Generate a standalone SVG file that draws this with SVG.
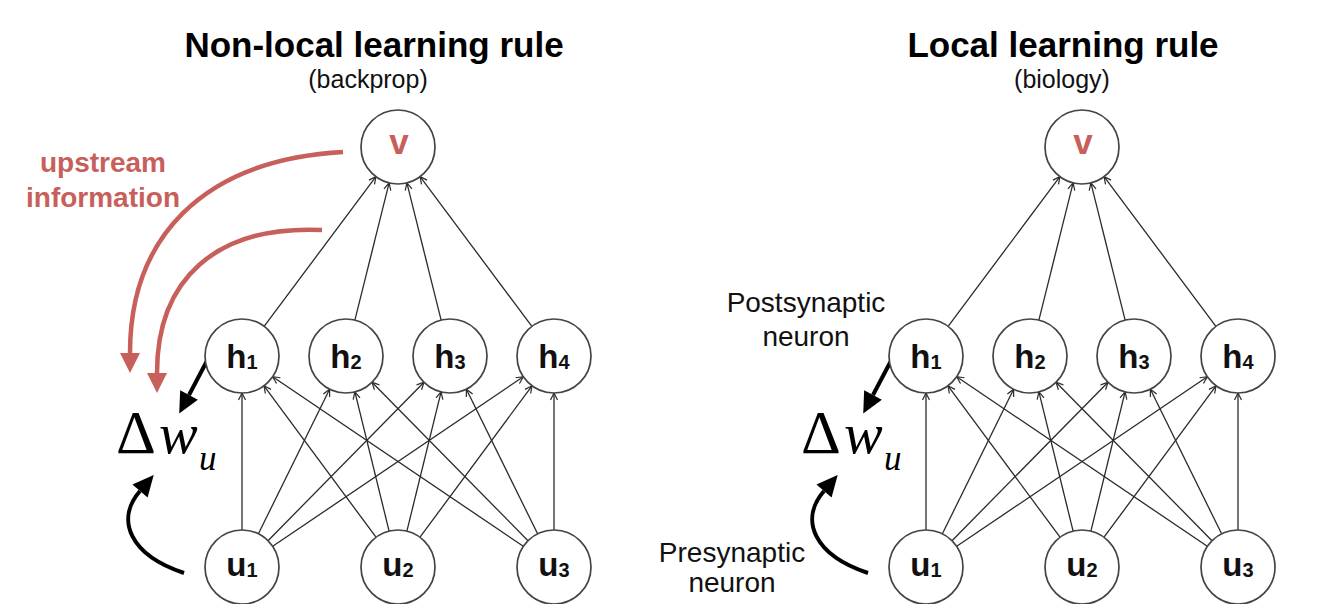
<svg xmlns="http://www.w3.org/2000/svg" width="1330" height="604" viewBox="0 0 1330 604">
<style>
.bg{fill:#ffffff}
.node circle{fill:#ffffff;stroke:#444;stroke-width:1.7}
.lbl{font-family:"Liberation Sans",Arial,sans-serif;font-weight:bold;font-size:33px;fill:#111;text-anchor:middle}
.sub{font-size:20px}
.vl{font-family:"Liberation Sans",Arial,sans-serif;font-weight:bold;font-size:35px;fill:#c7605a;text-anchor:middle}
.edge{stroke:#2a2a2a;stroke-width:1.3;fill:none;marker-end:url(#tiny)}
.title{font-family:"Liberation Sans",Arial,sans-serif;font-weight:bold;font-size:35px;fill:#000;text-anchor:middle}
.subt{font-family:"Liberation Sans",Arial,sans-serif;font-size:25px;fill:#111;text-anchor:middle}
.note{font-family:"Liberation Sans",Arial,sans-serif;font-size:28px;fill:#111;text-anchor:middle}
.red{font-family:"Liberation Sans",Arial,sans-serif;font-weight:bold;font-size:28px;fill:#c7605a;text-anchor:middle}
.math{font-family:"Liberation Serif","Times New Roman",serif;fill:#000}
.redarrow{stroke:#c7605a;stroke-width:4.5;fill:none;marker-end:url(#redhead)}
.blkarrow{stroke:#000;stroke-width:4;fill:none;marker-end:url(#blkhead)}
</style>
<defs>
<marker id="tiny" markerUnits="userSpaceOnUse" markerWidth="12" markerHeight="12" viewBox="-10 -6 12 12" refX="0" refY="0" orient="auto">
<path d="M-7,-3.5 L0,0 L-7,3.5" fill="none" stroke="#2a2a2a" stroke-width="1.2"/>
</marker>
<marker id="redhead" markerUnits="userSpaceOnUse" markerWidth="24" markerHeight="24" viewBox="-2 -12 24 24" refX="0" refY="0" orient="auto">
<path d="M0,-10 L20,0 L0,10 z" fill="#c7605a"/>
</marker>
<marker id="blkhead" markerUnits="userSpaceOnUse" markerWidth="24" markerHeight="24" viewBox="-2 -12 24 24" refX="0" refY="0" orient="auto">
<path d="M0,-10 L21,0 L0,10 z" fill="#000"/>
</marker>
</defs>
<rect class="bg" x="0" y="0" width="1330" height="604"/>

<g id="titles">
<text class="title" x="374" y="57">Non-local learning rule</text>
<text class="subt" x="368" y="88">(backprop)</text>
<text class="title" x="1063" y="57">Local learning rule</text>
<text class="subt" x="1062" y="88">(biology)</text>
</g>

<g id="connectors">
<line class="edge" x1="264.1" y1="326.4" x2="375.9" y2="176.6"/>
<line class="edge" x1="354.9" y1="320.1" x2="389.1" y2="182.9"/>
<line class="edge" x1="441.1" y1="320.1" x2="406.9" y2="182.9"/>
<line class="edge" x1="531.9" y1="326.4" x2="420.1" y2="176.6"/>
<line class="edge" x1="242" y1="530" x2="242" y2="393"/>
<line class="edge" x1="258.4" y1="533.8" x2="329.6" y2="389.2"/>
<line class="edge" x1="268.0" y1="540.7" x2="424.0" y2="382.3"/>
<line class="edge" x1="272.7" y1="546.3" x2="523.3" y2="376.7"/>
<line class="edge" x1="376.0" y1="537.2" x2="264.0" y2="385.8"/>
<line class="edge" x1="389.1" y1="531.1" x2="354.9" y2="391.9"/>
<line class="edge" x1="406.9" y1="531.1" x2="441.1" y2="391.9"/>
<line class="edge" x1="420.0" y1="537.2" x2="532.0" y2="385.8"/>
<line class="edge" x1="523.3" y1="546.3" x2="272.7" y2="376.7"/>
<line class="edge" x1="528.0" y1="540.7" x2="372.0" y2="382.3"/>
<line class="edge" x1="537.6" y1="533.8" x2="466.4" y2="389.2"/>
<line class="edge" x1="554" y1="530" x2="554" y2="393"/>
<line class="edge" x1="948.1" y1="326.4" x2="1059.9" y2="176.6"/>
<line class="edge" x1="1038.9" y1="320.1" x2="1073.1" y2="182.9"/>
<line class="edge" x1="1125.1" y1="320.1" x2="1090.9" y2="182.9"/>
<line class="edge" x1="1215.9" y1="326.4" x2="1104.1" y2="176.6"/>
<line class="edge" x1="926" y1="530" x2="926" y2="393"/>
<line class="edge" x1="942.4" y1="533.8" x2="1013.6" y2="389.2"/>
<line class="edge" x1="952.0" y1="540.7" x2="1108.0" y2="382.3"/>
<line class="edge" x1="956.7" y1="546.3" x2="1207.3" y2="376.7"/>
<line class="edge" x1="1060.0" y1="537.2" x2="948.0" y2="385.8"/>
<line class="edge" x1="1073.1" y1="531.1" x2="1038.9" y2="391.9"/>
<line class="edge" x1="1090.9" y1="531.1" x2="1125.1" y2="391.9"/>
<line class="edge" x1="1104.0" y1="537.2" x2="1216.0" y2="385.8"/>
<line class="edge" x1="1207.3" y1="546.3" x2="956.7" y2="376.7"/>
<line class="edge" x1="1212.0" y1="540.7" x2="1056.0" y2="382.3"/>
<line class="edge" x1="1221.6" y1="533.8" x2="1150.4" y2="389.2"/>
<line class="edge" x1="1238" y1="530" x2="1238" y2="393"/>
<path class="redarrow" d="M343,152 C200,160 130,240 130,353"/>
<path class="redarrow" d="M322,230 C215,225 157,280 157,373"/>
<path class="blkarrow" d="M209,357 L189,395"/>
<path class="blkarrow" d="M184,573 C130,555 115,520 140,491"/>
<path class="blkarrow" d="M893,357 L873,395"/>
<path class="blkarrow" d="M868,573 C814,555 799,520 824,491"/>
</g>

<g id="L-v" class="node"><circle cx="398" cy="147" r="37"/><text class="vl" x="399" y="154">v</text></g>
<g id="L-h1" class="node"><circle cx="242" cy="356" r="37"/><text class="lbl" x="242" y="368">h<tspan class="sub" dy="1">1</tspan></text></g>
<g id="L-h2" class="node"><circle cx="346" cy="356" r="37"/><text class="lbl" x="346" y="368">h<tspan class="sub" dy="1">2</tspan></text></g>
<g id="L-h3" class="node"><circle cx="450" cy="356" r="37"/><text class="lbl" x="450" y="368">h<tspan class="sub" dy="1">3</tspan></text></g>
<g id="L-h4" class="node"><circle cx="554" cy="356" r="37"/><text class="lbl" x="554" y="368">h<tspan class="sub" dy="1">4</tspan></text></g>
<g id="L-u1" class="node"><circle cx="242" cy="567" r="37"/><text class="lbl" x="242" y="576">u<tspan class="sub" dy="1">1</tspan></text></g>
<g id="L-u2" class="node"><circle cx="398" cy="567" r="37"/><text class="lbl" x="398" y="576">u<tspan class="sub" dy="1">2</tspan></text></g>
<g id="L-u3" class="node"><circle cx="554" cy="567" r="37"/><text class="lbl" x="554" y="576">u<tspan class="sub" dy="1">3</tspan></text></g>

<g id="R-v" class="node"><circle cx="1082" cy="147" r="37"/><text class="vl" x="1083" y="154">v</text></g>
<g id="R-h1" class="node"><circle cx="926" cy="356" r="37"/><text class="lbl" x="926" y="368">h<tspan class="sub" dy="1">1</tspan></text></g>
<g id="R-h2" class="node"><circle cx="1030" cy="356" r="37"/><text class="lbl" x="1030" y="368">h<tspan class="sub" dy="1">2</tspan></text></g>
<g id="R-h3" class="node"><circle cx="1134" cy="356" r="37"/><text class="lbl" x="1134" y="368">h<tspan class="sub" dy="1">3</tspan></text></g>
<g id="R-h4" class="node"><circle cx="1238" cy="356" r="37"/><text class="lbl" x="1238" y="368">h<tspan class="sub" dy="1">4</tspan></text></g>
<g id="R-u1" class="node"><circle cx="926" cy="567" r="37"/><text class="lbl" x="926" y="576">u<tspan class="sub" dy="1">1</tspan></text></g>
<g id="R-u2" class="node"><circle cx="1082" cy="567" r="37"/><text class="lbl" x="1082" y="576">u<tspan class="sub" dy="1">2</tspan></text></g>
<g id="R-u3" class="node"><circle cx="1238" cy="567" r="37"/><text class="lbl" x="1238" y="576">u<tspan class="sub" dy="1">3</tspan></text></g>

<g id="upstream-label">
<text class="red" x="103" y="172">upstream</text>
<text class="red" x="103" y="207">information</text>
</g>

<g id="L-dw">
<text class="math"><tspan x="116" y="453" font-size="62">Δ</tspan><tspan x="159" y="453" font-size="58" font-style="italic">w</tspan><tspan x="199" y="470" font-size="35" font-style="italic">u</tspan></text>
</g>
<g id="R-dw">
<text class="math"><tspan x="801" y="453" font-size="62">Δ</tspan><tspan x="844" y="453" font-size="58" font-style="italic">w</tspan><tspan x="884" y="470" font-size="35" font-style="italic">u</tspan></text>
</g>

<g id="post-label">
<text class="note" x="806" y="312">Postsynaptic</text>
<text class="note" x="806" y="346">neuron</text>
</g>
<g id="pre-label">
<text class="note" x="732" y="562">Presynaptic</text>
<text class="note" x="732" y="592">neuron</text>
</g>
</svg>
